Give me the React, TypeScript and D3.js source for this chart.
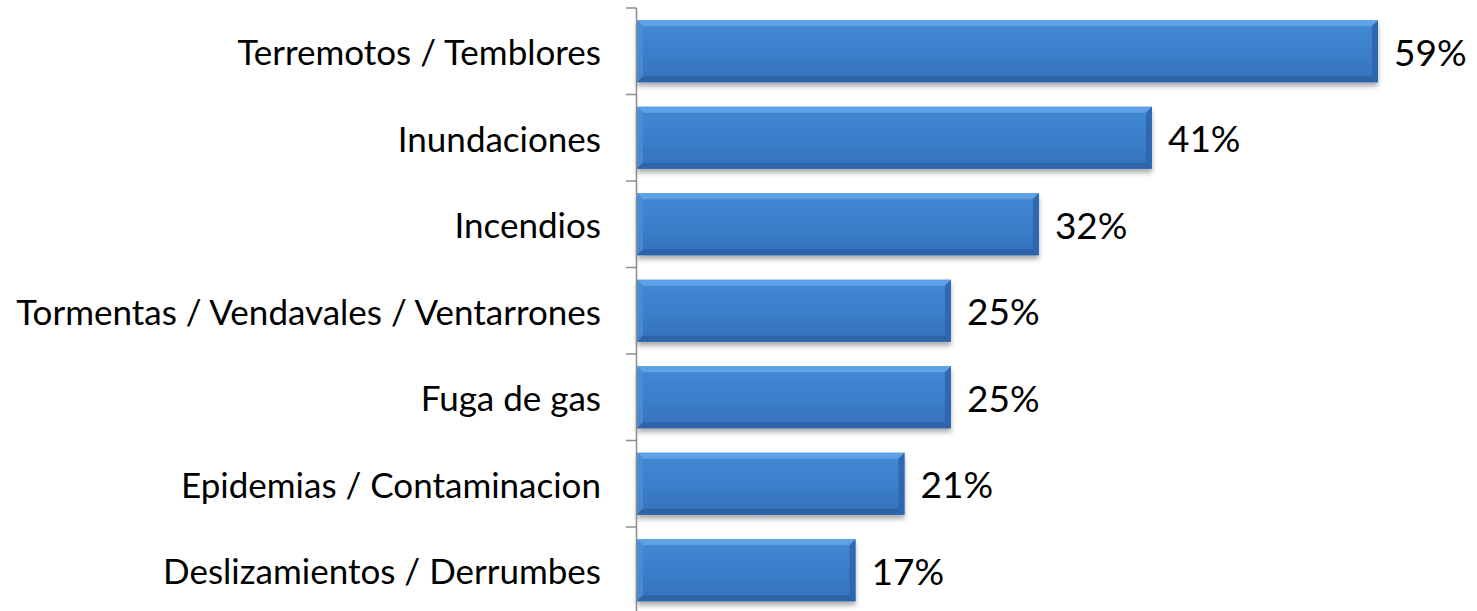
import React from "react";
import * as d3 from "d3";

const categories = [
  "Terremotos / Temblores",
  "Inundaciones",
  "Incendios",
  "Tormentas / Vendavales / Ventarrones",
  "Fuga de gas",
  "Epidemias / Contaminacion",
  "Deslizamientos / Derrumbes",
];
const values = [59, 41, 32, 25, 25, 21.3, 17.4];
const valueLabels = ["59%", "41%", "32%", "25%", "25%", "21%", "17%"];

const W = 1477;
const H = 611;
const FONT = "Lato, 'Open Sans', sans-serif";

export default function App() {
  const x = d3.scaleLinear().domain([0, 59]).range([637, 1378]);
  const y = d3
    .scaleBand<string>()
    .domain(categories)
    .range([8, 8 + 86.5 * categories.length])
    .paddingInner(0.283)
    .paddingOuter(0.1415);
  const step = y.step();
  const axisX = 636.5;
  const bw = y.bandwidth();
  const bev = 6;

  return (
    <svg
      width={W}
      height={H}
      style={{ position: "absolute", left: 0, top: 0, background: "#fff" }}
    >
      <defs>
        <linearGradient id="barFill" x1="0" y1="0" x2="0" y2="1">
          <stop offset="0" stopColor="#4289d4" />
          <stop offset="0.5" stopColor="#3b7fca" />
          <stop offset="1" stopColor="#3571bb" />
        </linearGradient>
        <filter id="shadow" x="-5%" y="-20%" width="110%" height="150%">
          <feDropShadow dx="0" dy="4" stdDeviation="2.5" floodColor="#000" floodOpacity="0.33" />
        </filter>
      </defs>
      {categories.map((c, i) => {
        const x0 = x(0);
        const x1 = x(values[i]);
        const y0 = y(c)!;
        const y1 = y0 + bw;
        return (
          <g key={c}>
            <rect x={x0} y={y0} width={x1 - x0} height={bw} fill="url(#barFill)" filter="url(#shadow)" />
            <polygon
              points={`${x0},${y0} ${x1},${y0} ${x1 - bev},${y0 + bev} ${x0 + bev},${y0 + bev}`}
              fill="#62a4e8"
              opacity={0.9}
            />
            <polygon
              points={`${x0},${y0} ${x0 + bev},${y0 + bev} ${x0 + bev},${y1 - bev} ${x0},${y1}`}
              fill="#4a8fd8"
              opacity={0.8}
            />
            <polygon
              points={`${x0},${y1} ${x0 + bev},${y1 - bev} ${x1 - bev},${y1 - bev} ${x1},${y1}`}
              fill="#2d62a6"
              opacity={0.9}
            />
            <polygon
              points={`${x1},${y0} ${x1},${y1} ${x1 - bev},${y1 - bev} ${x1 - bev},${y0 + bev}`}
              fill="#2c66ad"
              opacity={0.9}
            />
            <text
              x={601}
              y={y0 + bw / 2}
              textAnchor="end"
              dominantBaseline="central"
              fontFamily={FONT}
              fontSize={35}
              fill="#000"
            >
              {c}
            </text>
            <text
              x={x1 + 16}
              y={y0 + bw / 2}
              textAnchor="start"
              dominantBaseline="central"
              fontFamily={FONT}
              fontSize={37}
              fill="#000"
            >
              {valueLabels[i]}
            </text>
          </g>
        );
      })}
      <line x1={axisX} x2={axisX} y1={8} y2={H} stroke="#8c8c8c" strokeWidth={1.5} />
      {categories.map((c, i) => (
        <line
          key={"t" + i}
          x1={626}
          x2={axisX}
          y1={8 + i * step}
          y2={8 + i * step}
          stroke="#8c8c8c"
          strokeWidth={1.5}
        />
      ))}
    </svg>
  );
}
